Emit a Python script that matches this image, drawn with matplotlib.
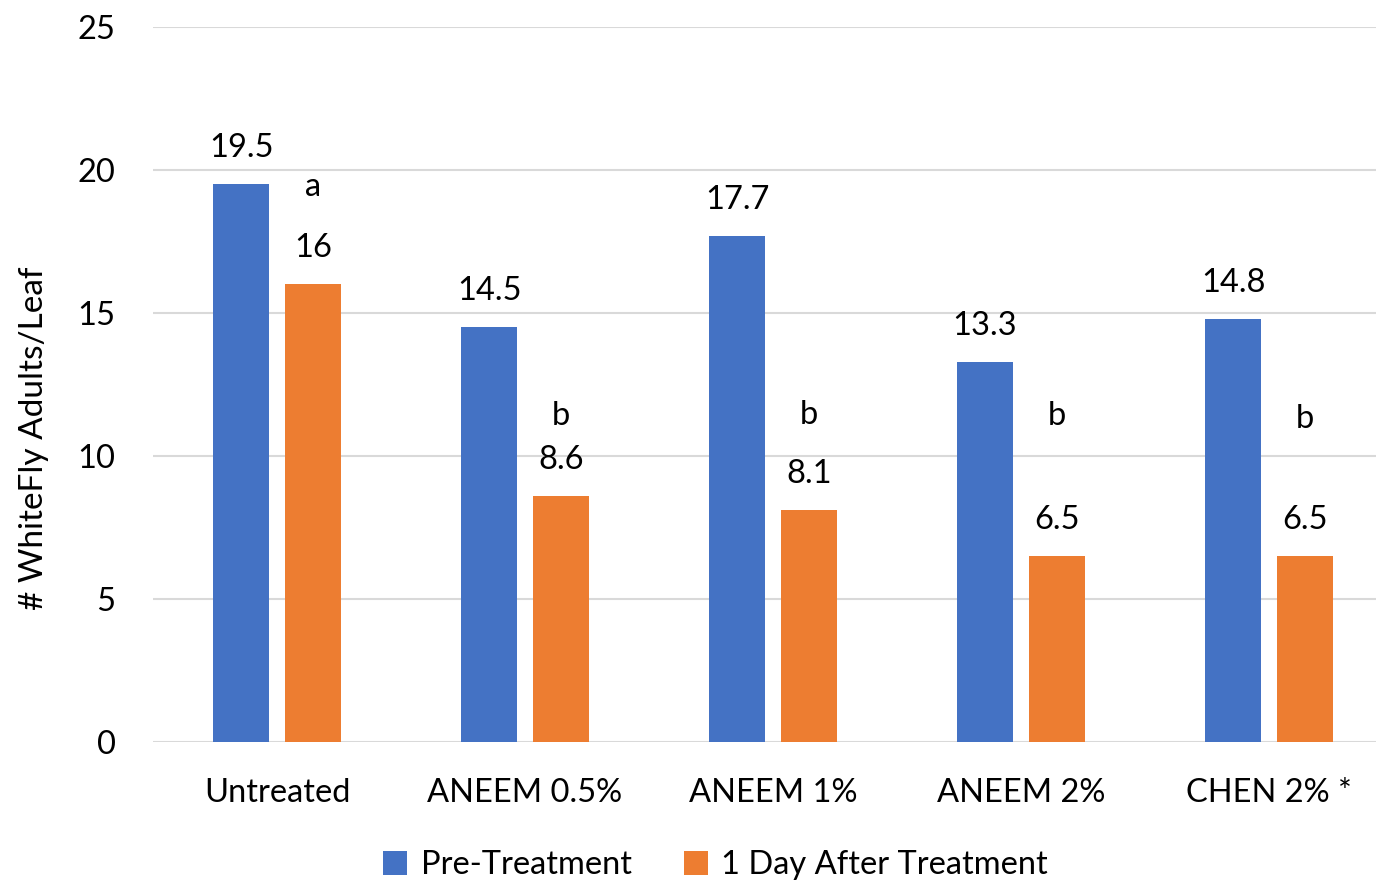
import matplotlib
matplotlib.use("Agg")
import matplotlib.pyplot as plt
import numpy as np

# whitefly counts per treatment
treatments = ["Untreated", "ANEEM 0.5%", "ANEEM 1%", "ANEEM 2%", "CHEN 2% *"]
pre_treatment = [19.5, 14.5, 17.7, 13.3, 14.8]
after_1day = [16, 8.6, 8.1, 6.5, 6.5]
pre_labels = ["19.5", "14.5", "17.7", "13.3", "14.8"]
after_labels = ["16", "8.6", "8.1", "6.5", "6.5"]
# significance letters and the height they sit at
sig_letters = ["a", "b", "b", "b", "b"]
sig_y = [19.4, 11.4, 11.45, 11.4, 11.3]

plt.rcParams['font.family'] = ['Lato', 'DejaVu Sans']
fs = 23.5

fig = plt.figure(figsize=(13.76, 8.83), dpi=100)
ax = fig.add_axes([0.1112, 0.1597, 0.9012, 0.8097])

x = np.arange(len(treatments))
w = 0.226
off = 0.145
blue = "#4472C4"
orange = "#ED7D31"

b1 = ax.bar(x - off, pre_treatment, w, color=blue, label="Pre-Treatment", zorder=3)
b2 = ax.bar(x + off, after_1day, w, color=orange, label="1 Day After Treatment", zorder=3)

for i in range(len(treatments)):
    ax.annotate(pre_labels[i], (x[i] - off, pre_treatment[i]), xytext=(0, 26),
                textcoords="offset points", ha="center", va="center", fontsize=fs)
    ax.annotate(after_labels[i], (x[i] + off, after_1day[i]), xytext=(0, 26),
                textcoords="offset points", ha="center", va="center", fontsize=fs)
    ax.text(x[i] + off, sig_y[i], sig_letters[i], ha="center", va="center", fontsize=fs)

ax.set_xlim(-0.5, len(treatments) - 0.5)
ax.set_ylim(0, 25)
ax.set_yticks([0, 5, 10, 15, 20, 25])
ax.set_xticks(x)
ax.set_xticklabels(treatments)
ax.tick_params(axis="both", length=0, labelsize=fs)
ax.tick_params(axis="x", pad=26)
ax.tick_params(axis="y", pad=27)
ax.grid(axis="y", color="#d9d9d9", linewidth=1.5, zorder=0)
for s in ax.spines.values():
    s.set_visible(False)

ax.set_ylabel("# WhiteFly Adults/Leaf", fontsize=24)
ax.yaxis.set_label_coords(-0.084, 0.425)

fig.legend(handles=[b1, b2], loc="center", bbox_to_anchor=(0.52, 0.02), ncol=2,
           frameon=False, fontsize=23.5, handlelength=0.75, handleheight=0.75,
           handletextpad=0.4, columnspacing=1.6)

fig.savefig("out.png", dpi=100)
